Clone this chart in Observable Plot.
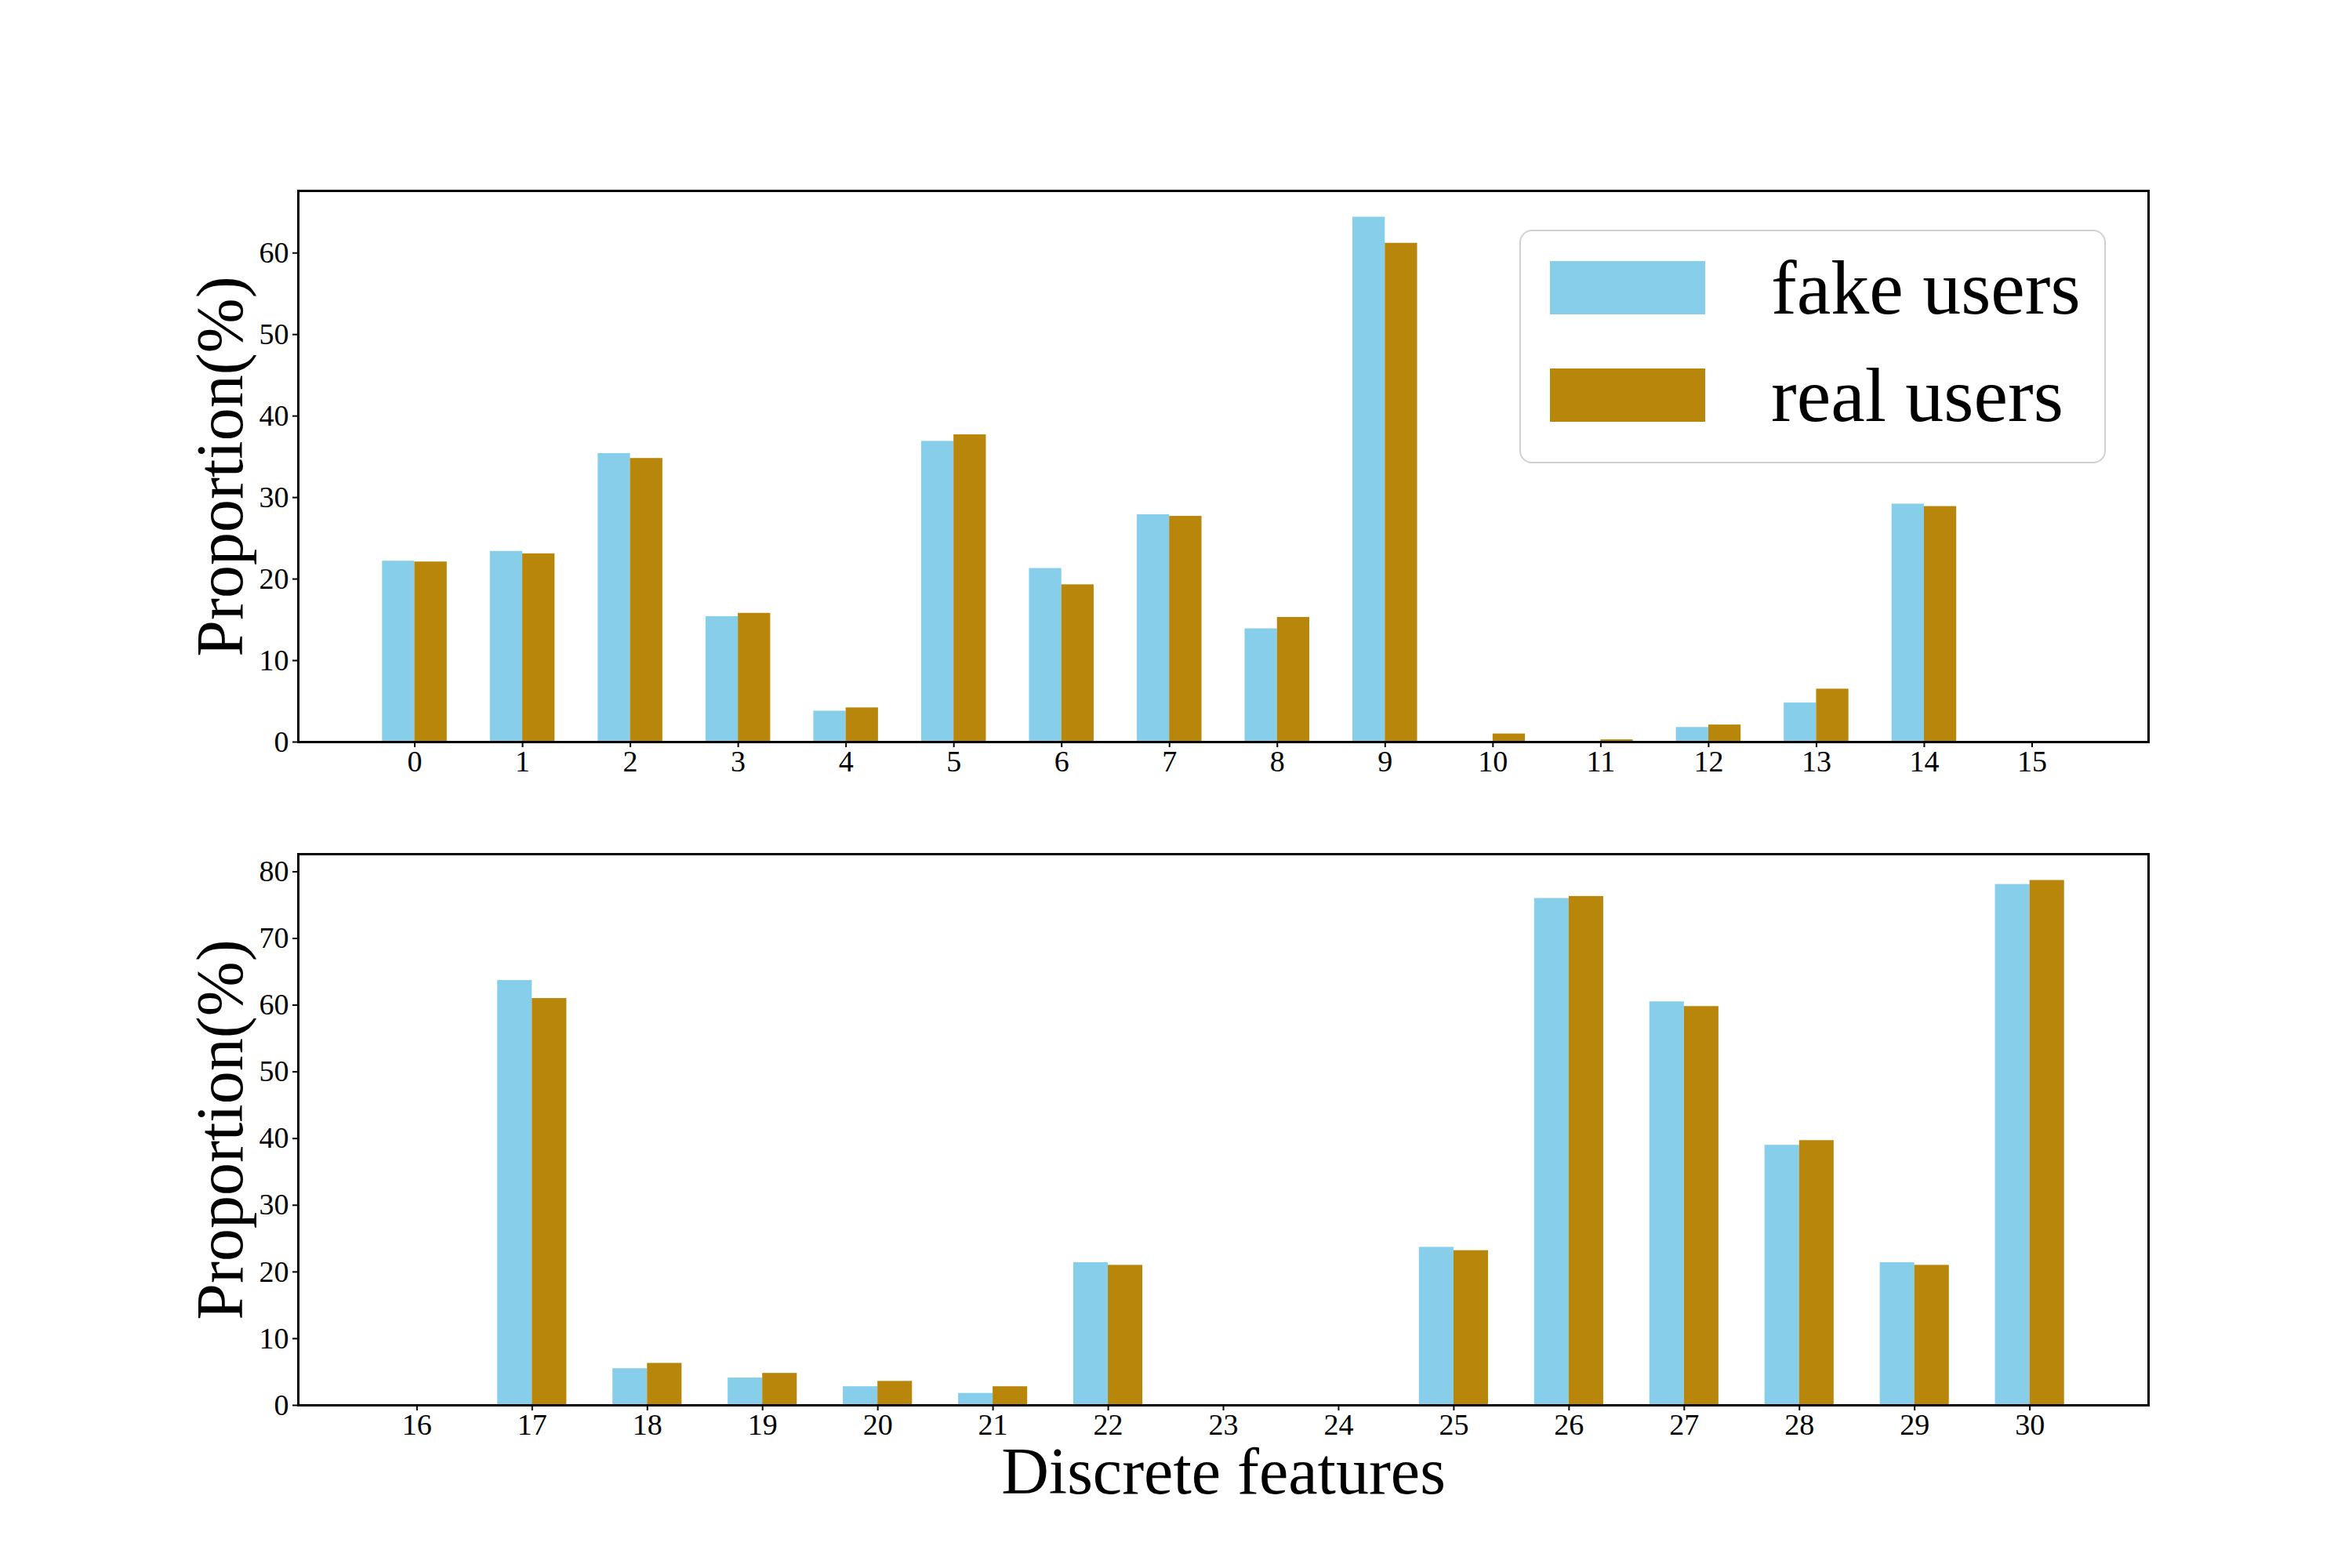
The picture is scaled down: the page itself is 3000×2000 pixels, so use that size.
<!DOCTYPE html>
<html><head><meta charset="utf-8">
<script src="https://cdn.jsdelivr.net/npm/d3@7"></script>
<script src="https://cdn.jsdelivr.net/npm/@observablehq/plot@0.6"></script>
<style>
html,body{margin:0;padding:0;background:#fff;}
#fig{position:relative;width:3000px;height:2000px;background:#fff;font-family:"Liberation Serif","Times New Roman",serif;overflow:hidden;}
#fig svg{position:absolute;left:0;}
.legend{position:absolute;left:1938px;top:293px;width:748px;height:298px;border:2px solid #d0d0d0;border-radius:16px;background:rgba(255,255,255,0.8);box-sizing:border-box;}
.legend .item{position:absolute;left:37px;height:68px;display:flex;align-items:center;}
.legend .sw{width:198px;height:68px;}
.legend .lab{margin-left:84px;font-size:98px;line-height:68px;color:#000;white-space:nowrap;}
</style></head><body><div id="fig"></div>
<script>
const featuresTop = [0,1,2,3,4,5,6,7,8,9,10,11,12,13,14,15];
const fakeTop = [22.2,23.4,35.4,15.4,3.8,36.9,21.3,27.9,13.9,64.4,0,0,1.8,4.8,29.2,0];
const realTop = [22.1,23.1,34.8,15.8,4.2,37.7,19.3,27.7,15.3,61.2,1.0,0.28,2.1,6.5,28.9,0];

const featuresBottom = [16,17,18,19,20,21,22,23,24,25,26,27,28,29,30];
const fakeBottom = [0,63.7,5.5,4.1,2.8,1.8,21.4,0,0,23.7,76.0,60.5,39.0,21.4,78.1];
const realBottom = [0,61.0,6.3,4.8,3.6,2.8,21.0,0,0,23.2,76.3,59.8,39.7,21.0,78.7];

const yTicksTop = [0,10,20,30,40,50,60];
const yTicksBottom = [0,10,20,30,40,50,60,70,80];

const seriesNames = ["fake users","real users"];
const seriesColors = ["#87CEEB","#B8860B"];
const yLabel = "Proportion(%)";
const xLabel = "Discrete features";
const barWidth = 0.3;

const FONT = '"Liberation Serif","Times New Roman",serif';

function panel(features, fake, real, yTicks, o) {
  const rows = [];
  features.forEach((f, i) => {
    rows.push({feature: f, series: seriesNames[0], value: fake[i], x1: f - barWidth, x2: f});
    rows.push({feature: f, series: seriesNames[1], value: real[i], x1: f, x2: f + barWidth});
  });
  const xmin = d3.min(features) - barWidth, xmax = d3.max(features) + barWidth;
  const xpad = (xmax - xmin) * 0.05;
  const ymax = d3.max(rows, d => d.value) * 1.05;
  const marks = [
    Plot.rectY(rows, {x1: "x1", x2: "x2", y1: 0, y2: "value", fill: "series", inset: 0}),
    Plot.axisY({ticks: yTicks, tickSize: 7, tickPadding: 5, fontSize: 38, label: null, strokeWidth: 2}),
    Plot.axisX({ticks: features, tickSize: 7, tickPadding: 4, fontSize: 38, label: null, tickFormat: d => String(d), strokeWidth: 2}),
    Plot.frame({stroke: "#000", strokeWidth: 3}),
    Plot.text([yLabel], {frameAnchor: "left", dx: -98, rotate: -90, fontSize: 84, textAnchor: "middle", lineAnchor: "middle", fill: "#000"})
  ];
  if (o.xlabel) marks.push(Plot.text([xLabel], {frameAnchor: "bottom", dy: 112, fontSize: 84, textAnchor: "middle", lineAnchor: "bottom", fill: "#000"}));
  const svg = Plot.plot({
    width: 3000, height: o.height,
    marginTop: o.mt, marginBottom: o.mb, marginLeft: 380, marginRight: 260,
    style: {fontFamily: FONT, color: "#000", background: "transparent", overflow: "visible"},
    x: {type: "linear", domain: [xmin - xpad, xmax + xpad]},
    y: {domain: [0, ymax]},
    color: {domain: seriesNames, range: seriesColors},
    marks
  });
  svg.style.top = o.top + "px";
  return svg;
}

const fig = document.getElementById("fig");
fig.appendChild(panel(featuresTop, fakeTop, realTop, yTicksTop, {top: 0, height: 1000, mt: 243, mb: 54}));
fig.appendChild(panel(featuresBottom, fakeBottom, realBottom, yTicksBottom, {top: 1000, height: 1000, mt: 89, mb: 208, xlabel: true}));

const legend = document.createElement("div");
legend.className = "legend";
seriesNames.forEach((name, i) => {
  const item = document.createElement("div");
  item.className = "item";
  item.style.top = (38 + i * 137) + "px";
  const sw = document.createElement("div");
  sw.className = "sw";
  sw.style.background = seriesColors[i];
  const lab = document.createElement("span");
  lab.className = "lab";
  lab.textContent = name;
  item.appendChild(sw); item.appendChild(lab);
  legend.appendChild(item);
});
fig.appendChild(legend);
</script>
</body></html>
